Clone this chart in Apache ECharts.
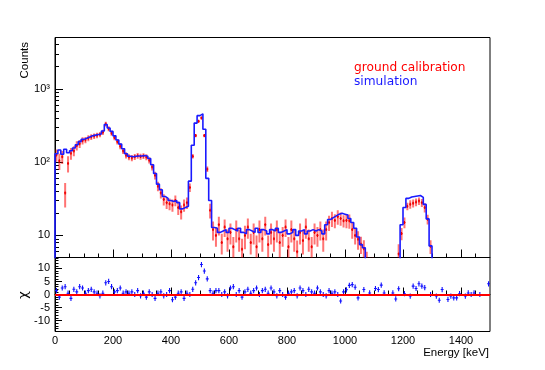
<!DOCTYPE html>
<html>
<head>
<meta charset="utf-8">
<script src="https://cdn.jsdelivr.net/npm/echarts@6/dist/echarts.min.js"></script>
<style>
html, body { margin: 0; padding: 0; background: #fff; }
#main { width: 545px; height: 370px; }
</style>
</head>
<body>
<div id="main"></div>
<script>
// 10 keV bins, low edges 0 .. 1490
var binWidth = 10;
var binLow = [];
for (var i = 0; i < 150; i++) binLow.push(i * binWidth);

// simulation histogram (counts per bin)
var simCounts = [
  130, 146, 128, 150, 134, 143, 156, 172, 190, 204,
  212, 220, 228, 233, 238, 242, 265, 325, 292, 262,
  228, 200, 176, 152, 130, 120, 118, 120, 121, 121,
  123, 120, 112, 92, 70, 50, 42, 34, 32, 30,
  29, 30, 28, 23, 24, 25, 55, 170, 340, 430,
  455, 280, 60, 30, 12.8, 12.5, 11, 11.5, 12, 11,
  12.5, 12, 11.5, 12.5, 11, 10.5, 12, 11.5, 11, 12.5,
  11, 12, 11.5, 10.5, 12, 11.5, 12.5, 11, 11.5, 12,
  10.5, 11, 12, 10, 11.5, 12, 10.5, 11.5, 12, 11.5,
  12, 11.5, 10.5, 14, 16.5, 17.5, 18.5, 19.5, 20, 19.5,
  19, 17, 15, 12.5, 9.5, 7.5, 6.8, 4.5, 3.5, 3.2,
  3, 3, 2.8, 2.8, 2.6, 2.6, 2.5, 2.6, 3, 14,
  24, 32, 33.5, 34, 34.5, 35, 33, 26.5, 16.8, 7.2,
  3, 2.5, 2, 1.8, 1.6, 1.5, 1.4, 1.3, 1.3, 1.2,
  1.2, 1.1, 1.1, 1, 1, 1, 1, 0.9, 0.9, 0.9
];

// ground calibration data and its errors
var dataCounts = [
  125, 104, 118, 38, 96, 132, 142, 168, 178, 196,
  200, 212, 220, 226, 232, 238, 255, 330, 285, 248,
  216, 190, 165, 142, 124, 117, 114, 118, 122, 119,
  121, 117, 106, 86, 66, 47, 38, 31, 28, 27,
  26, 30, 24, 21, 26, 28, 45, 120, 230, 360,
  400, 230, 80, 22, 12, 10, 14, 8, 13, 9,
  11, 7, 12, 9, 6.5, 10, 13, 8, 11, 7,
  12, 9, 14, 7.5, 11, 9, 12, 8, 10, 13,
  7, 12, 9, 6, 11, 8.5, 13, 9, 7, 11,
  10, 12, 9, 12, 15, 17, 16, 18, 17, 15.8,
  16, 15.8, 12, 10, 8.9, 7.6, 6.6, 4, 3, 3,
  2.8, 2.8, 2.5, 2.5, 2.5, 2.4, 2.4, 2.5, 5.6, 10.6,
  15, 25, 26.6, 27.5, 28.5, 29.5, 28, 24, 16.6, 7.1,
  3, 2.2, 1.8, 1.6, 1.5, 1.4, 1.3, 1.2, 1.2, 1.1,
  1.1, 1, 1, 0.9, 0.9, 0.9, 0.9, 0.8, 0.8, 0.8
];
var dataErr = [
  24, 26, 24, 14, 24, 24, 22, 24, 22, 22,
  20, 20, 20, 20, 20, 20, 20, 24, 22, 20,
  18, 16, 15, 13, 12, 11, 11, 11, 11, 11,
  11, 11, 10, 9, 8, 7, 6, 5.5, 5, 5,
  5, 5, 5, 4.5, 5, 5, 6, 8, 12, 14,
  15, 12, 7, 5, 3.5, 3, 4, 2.5, 3.5, 3,
  3.5, 2.5, 4, 3, 2.5, 3.5, 4, 2.5, 3.5, 3,
  4, 3, 4, 2.5, 3.5, 3, 4, 3, 3, 3.5,
  2.5, 4, 3, 2.5, 3.5, 3, 4, 3, 2.5, 3.5,
  3, 3.5, 3, 3.5, 3.5, 4, 3.5, 4, 3.5, 3,
  3.5, 3.5, 3, 2.5, 2.5, 2, 2, 2, 2, 2,
  2, 2, 2, 2, 2, 2, 2, 2, 2, 2,
  2.5, 3, 3.5, 3.5, 3.5, 3.5, 3.5, 3.5, 2.5, 1.5,
  1.5, 1.5, 1.5, 1.5, 1.5, 1.5, 1.5, 1.5, 1.5, 1.5,
  1.5, 1.5, 1.5, 1.5, 1.5, 1.5, 1.5, 1.5, 1.5, 1.5
];

// residuals (chi) per bin, null = no point
var chi = [
  1.5, -1, 2.5, 3, 0.5, -1.5, 2, 1, 3, 2.5,
  0.5, 1.5, 2, 1, 0.5, -0.5, 0.5, 4.5, 5, 3,
  1, 1.5, 2.5, 0.5, 1, 0.5, 1, 0, 1.5, -0.5,
  0.5, -1, 1, 0, -1.5, 0.5, 1, -0.5, 0, 1.5,
  -2, -1, 0.5, 1, -1.5, 0.5, 0, 2, 4.5, 6.5,
  11.5, 9, 6, 1.5, 0.5, 1.5, 1.5, 0, 1, -0.5,
  2.5, 3, 0, 1.5, -1, 1, 2, 0.5, 1.5, 2.5,
  0, 1.5, 2, 0.5, 2.5, 1, -0.5, 1.5, 0, -1,
  0.5, 1, 1.5, -0.5, 2.5, 1.5, 0, 2, 1, 0.5,
  2.5, 1, 0, -0.5, 1.5, 0.5, 1, 0, -2.5, 1,
  1.8, 3.5, 3.8, 2.8, -1.3, null, 1.9, null, 0.6, null,
  2.3, 1.9, 3.6, 0.6, null, null, 0.6, -1.7, 2.2, null,
  0.3, null, -0.6, 3.2, 2.3, 4.1, 3.2, 2.6, null, 0,
  null, -0.6, -2.2, 1.9, null, -1.9, -0.6, -1.3, -1.3, 0.3,
  null, -0.6, 0.6, 0, 0.6, null, 0, null, null, 4.1
];

var xMajor = [0, 200, 400, 600, 800, 1000, 1200, 1400];
var xMinor = [50, 100, 150, 250, 300, 350, 450, 500, 550, 650, 700, 750, 850, 900, 950,
              1050, 1100, 1150, 1250, 1300, 1350, 1450];
var yMajor = [10, 100, 1000];
var yMinor = [5, 6, 7, 8, 9, 20, 30, 40, 50, 60, 70, 80, 90,
              200, 300, 400, 500, 600, 700, 800, 900, 2000, 3000, 4000, 5000];
var chiMajor = [-10, -5, 0, 5, 10];
var chiMinor = [-14, -13, -12, -11, -9, -8, -7, -6, -4, -3, -2, -1,
                1, 2, 3, 4, 6, 7, 8, 9, 11, 12, 13, 14];

var sup = {2: '\u00b2', 3: '\u00b3'};
var font = 'Liberation Sans';

// build series data
var histData = [[binLow[0], 0.5]];
var pointData = [];
var chiData = [];
for (var i = 0; i < binLow.length; i++) {
  histData.push([binLow[i], simCounts[i]]);
  pointData.push([binLow[i] + binWidth / 2, dataCounts[i], dataErr[i]]);
  if (chi[i] !== null) chiData.push([binLow[i] + binWidth / 2, chi[i]]);
}
histData.push([binLow[binLow.length - 1] + binWidth, simCounts[simCounts.length - 1]]);

function seg(a, b, color, w) {
  return {type: 'line', shape: {x1: a[0], y1: a[1], x2: b[0], y2: b[1]},
          style: {stroke: color, lineWidth: w}};
}

function renderPoint(params, api) {
  var x = api.value(0), v = api.value(1), e = api.value(2);
  var hw = binWidth * 0.35;
  var c = api.coord([x, v]);
  return {type: 'group', children: [
    seg(api.coord([x, v + e]), api.coord([x, Math.max(v - e, 0.1)]), 'rgba(255,0,0,0.55)', 2),
    seg(api.coord([x - hw, v]), api.coord([x + hw, v]), '#ee0000', 1.2),
    seg([c[0], c[1] - 1.5], [c[0], c[1] + 1.5], '#ee0000', 1.2)
  ]};
}

function renderChi(params, api) {
  var x = api.value(0), v = api.value(1);
  var hw = binWidth * 0.5;
  return {type: 'group', children: [
    seg(api.coord([x - hw, v]), api.coord([x + hw, v]), '#1010ff', 1.1),
    seg(api.coord([x, v - 1]), api.coord([x, v + 1]), '#1010ff', 1.1)
  ]};
}

function xAxisOf(grid, ticks, len, labels) {
  return {
    type: 'value', gridIndex: grid, min: 0, max: 1500, position: 'bottom', offset: 0,
    axisLine: {show: ticks === xMajor, lineStyle: {color: '#000', width: 1}},
    axisTick: {show: true, inside: true, length: len, customValues: ticks,
               lineStyle: {color: '#000', width: 1}},
    axisLabel: {show: labels, customValues: xMajor, margin: 4, color: '#000',
                fontFamily: font, fontSize: 11,
                formatter: function (v) { return String(v); }},
    splitLine: {show: false}
  };
}

var myChart = echarts.init(document.getElementById('main'));

var option = {
  animation: false,
  backgroundColor: '#fff',
  grid: [
    {left: 55, right: 55, top: 37.5, height: 220, show: true,
     borderColor: '#000', borderWidth: 1, backgroundColor: 'transparent'},
    {left: 55, right: 55, top: 257.5, height: 74, show: true,
     borderColor: '#000', borderWidth: 1, backgroundColor: 'transparent'}
  ],
  legend: {
    orient: 'vertical', left: 354, top: 62, itemGap: 1.5, itemWidth: 0, itemHeight: 12,
    padding: 0, icon: 'none', selectedMode: false,
    textStyle: {fontFamily: 'DejaVu Sans', fontSize: 12.2, padding: [0, 0, 0, -5]},
    data: [
      {name: 'ground calibration', textStyle: {color: '#ff0000'}},
      {name: 'simulation', textStyle: {color: '#1a1aff'}}
    ]
  },
  xAxis: [
    xAxisOf(0, xMajor, 8, false),
    xAxisOf(0, xMinor, 4, false),
    xAxisOf(1, xMajor, 7, true),
    xAxisOf(1, xMinor, 4, false)
  ],
  yAxis: [
    {type: 'log', logBase: 10, gridIndex: 0, min: 5, max: 5000, position: 'left', offset: 0,
     axisLine: {show: true, lineStyle: {color: '#000'}},
     axisTick: {inside: true, length: 8, customValues: yMajor, lineStyle: {color: '#000'}},
     axisLabel: {customValues: yMajor, margin: 5, color: '#000', fontFamily: font, fontSize: 11,
       formatter: function (v) {
         var e = Math.round(Math.log10(v));
         return e === 1 ? '10' : '10' + sup[e];
       }},
     splitLine: {show: false}},
    {type: 'log', logBase: 10, gridIndex: 0, min: 5, max: 5000, position: 'left', offset: 0,
     axisLine: {show: false},
     axisTick: {inside: true, length: 4, customValues: yMinor, lineStyle: {color: '#000'}},
     axisLabel: {show: false}, splitLine: {show: false}},
    {type: 'value', gridIndex: 1, min: -14.2, max: 14.2, position: 'left', offset: 0,
     axisLine: {show: true, lineStyle: {color: '#000'}},
     axisTick: {inside: true, length: 7, customValues: chiMajor, lineStyle: {color: '#000'}},
     axisLabel: {customValues: chiMajor, margin: 5, color: '#000', fontFamily: font, fontSize: 11},
     splitLine: {show: false}},
    {type: 'value', gridIndex: 1, min: -14.2, max: 14.2, position: 'left', offset: 0,
     axisLine: {show: false},
     axisTick: {inside: true, length: 3.5, customValues: chiMinor, lineStyle: {color: '#000'}},
     axisLabel: {show: false}, splitLine: {show: false}}
  ],
  series: [
    {
      name: 'ground calibration', type: 'custom', xAxisIndex: 0, yAxisIndex: 0,
      clip: true, renderItem: renderPoint, encode: {x: 0, y: 1},
      itemStyle: {color: '#ff0000'}, data: pointData, z: 2
    },
    {
      name: 'simulation', type: 'line', xAxisIndex: 0, yAxisIndex: 0,
      step: 'end', showSymbol: false, clip: true,
      lineStyle: {color: '#1a1aff', width: 1.6}, itemStyle: {color: '#1a1aff'},
      data: histData, z: 3
    },
    {
      name: 'chi', type: 'custom', xAxisIndex: 2, yAxisIndex: 2,
      clip: true, renderItem: renderChi, encode: {x: 0, y: 1}, data: chiData, z: 3,
      markLine: {
        silent: true, symbol: 'none', label: {show: false},
        lineStyle: {color: '#ff0000', width: 2, type: 'solid'},
        data: [{yAxis: 0}]
      }
    }
  ],
  graphic: [
    {type: 'text', x: 25, y: 42, rotation: Math.PI / 2,
     style: {text: 'Counts', align: 'right', verticalAlign: 'middle',
             font: '11.5px "Liberation Sans"', fill: '#000'}},
    {type: 'text', x: 24, y: 295, rotation: Math.PI / 2,
     style: {text: '\u03c7', align: 'center', verticalAlign: 'middle',
             font: '13px "DejaVu Sans"', fill: '#000'}},
    {type: 'text', x: 489, y: 353,
     style: {text: 'Energy [keV]', align: 'right', verticalAlign: 'middle',
             font: '11.5px "Liberation Sans"', fill: '#000'}}
  ]
};

myChart.setOption(option);
</script>
</body>
</html>
